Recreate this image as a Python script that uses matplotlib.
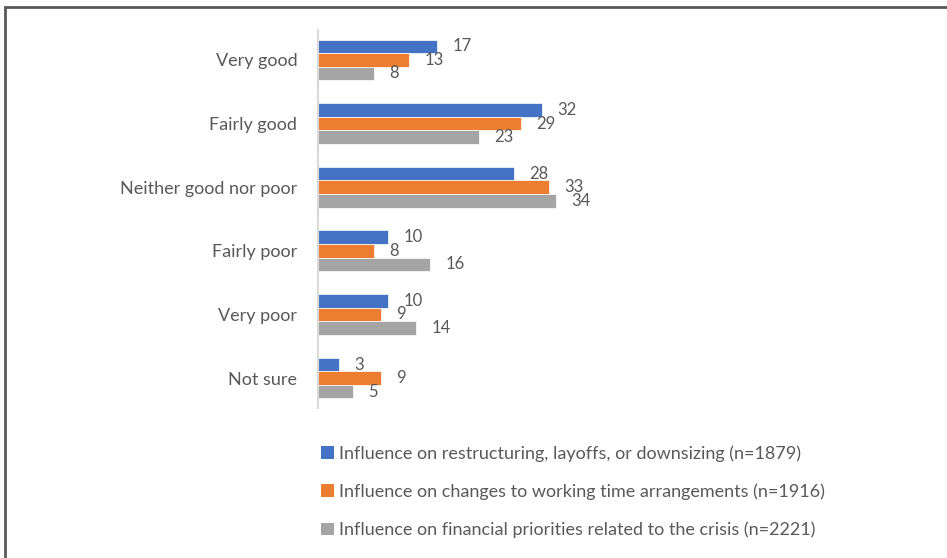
import numpy as np
import matplotlib.pyplot as plt
from matplotlib.patches import Rectangle, Patch

plt.rcParams['font.family'] = ['Lato', 'DejaVu Sans']

categories = ['Very good', 'Fairly good', 'Neither good nor poor',
              'Fairly poor', 'Very poor', 'Not sure']
restructuring = [17, 32, 28, 10, 10, 3]
working_time = [13, 29, 33, 8, 9, 9]
financial = [8, 23, 34, 16, 14, 5]
series_names = ['Influence on restructuring, layoffs, or downsizing (n=1879)',
                'Influence on changes to working time arrangements (n=1916)',
                'Influence on financial priorities related to the crisis (n=2221)']
colors = ['#4472C4', '#ED7D31', '#A5A5A5']
text_color = '#595959'

fig = plt.figure(figsize=(9.47, 5.58), dpi=100)
ax = fig.add_axes([318 / 947, 1 - 408 / 558, 350 / 947, 378 / 558])

y = np.arange(len(categories))
h = 0.213
for i, (vals, c) in enumerate(zip([restructuring, working_time, financial], colors)):
    pos = y + (i - 1) * h
    ax.barh(pos, vals, height=h, color=c, edgecolor='white', linewidth=0.5)
    for p, v in zip(pos, vals):
        ax.annotate(str(v), (v, p), xytext=(11, 0), textcoords='offset points',
                    ha='left', va='center', fontsize=12, color=text_color)

ax.set_xlim(0, 50)
ax.set_ylim(5.47, -0.47)
ax.set_yticks(y)
ax.set_yticklabels(categories, fontsize=13, color=text_color)
ax.tick_params(axis='y', length=0, pad=15)
ax.set_xticks([])
for s in ['top', 'right', 'bottom']:
    ax.spines[s].set_visible(False)
ax.spines['left'].set_color('#D9D9D9')
ax.spines['left'].set_linewidth(1.5)

handles = [Patch(facecolor=c, edgecolor='none') for c in colors]
fig.legend(handles, series_names, loc='upper left', bbox_to_anchor=(305 / 947, 1 - 429 / 558),
           frameon=False, fontsize=13, labelcolor=text_color, handlelength=0.7,
           handleheight=0.7, handletextpad=0.3, labelspacing=1.2)

# outer frame
fig.patches.append(Rectangle((5 / 947, -0.1), 1.2, 1 - 7 / 558 + 0.1, transform=fig.transFigure,
                             fill=False, edgecolor='#595959', linewidth=2))

fig.savefig('out.png', dpi=100)
